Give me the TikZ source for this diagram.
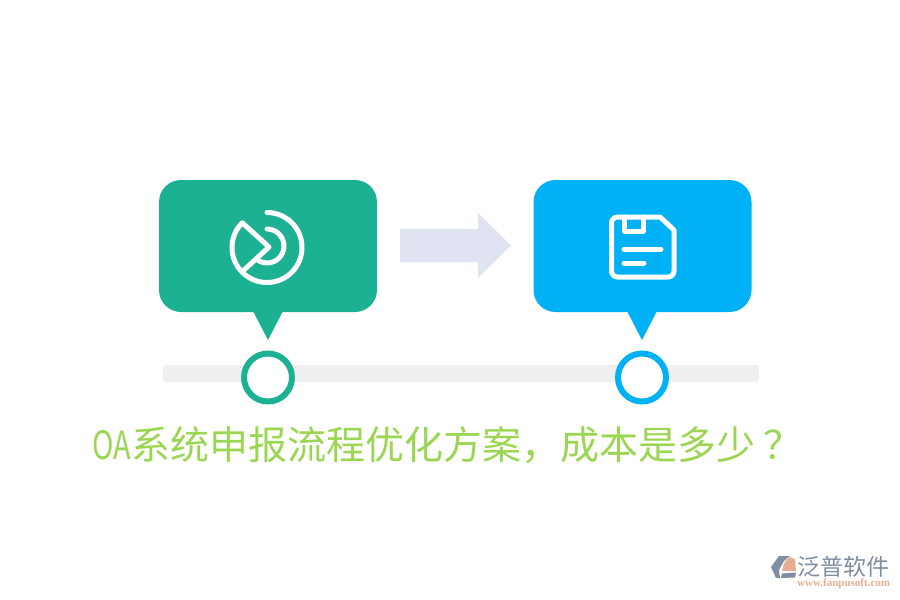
\documentclass[tikz,border=0pt]{standalone}
\usepackage{fontspec}
\newfontfamily\cjk{Noto Sans CJK SC}
\setmainfont{Liberation Serif}
\usetikzlibrary{positioning}
\definecolor{tealbox}{HTML}{1CB193}
\definecolor{bluebox}{HTML}{00B1F6}
\definecolor{trackgrey}{HTML}{EFEFEF}
\definecolor{arrowgrey}{HTML}{DFE3F2}
\definecolor{titlegreen}{HTML}{9BD653}
\definecolor{logoblue}{HTML}{7F8FA3}
\definecolor{logoorange}{HTML}{E6AE90}

\begin{document}
\begin{tikzpicture}[
  x=1pt,y=-1pt,
  callout/.style={rounded corners=22pt,minimum width=218pt,minimum height=132pt,inner sep=0pt},
  ring/.style={circle,draw,line width=6pt,fill=white,minimum size=48pt,inner sep=0pt},
  iconline/.style={draw=white,line width=5pt,line cap=round,line join=round}
  ]
  \useasboundingbox (0,0) rectangle (900,600);

  % track and the two markers
  \node[fill=trackgrey,rounded corners=3pt,minimum width=596pt,minimum height=17pt,inner sep=0pt] (track) at (461,373.5) {};
  \node[ring,draw=tealbox] (ringa) at (268,377.5) {};
  \node[ring,draw=bluebox] (ringb) at (642,377.5) {};

  % callouts
  \node[callout,fill=tealbox] (boxa) at (268,246) {};
  \node[callout,fill=bluebox] (boxb) at (642.5,246) {};
  \fill[tealbox] (253,311) -- (268,340) -- (283,311) -- cycle;
  \fill[bluebox] (627,311) -- (642,340) -- (657,311) -- cycle;

  % arrow
  \fill[arrowgrey] (400,229) -- (478,229) -- (478,213) -- (511,245.5) -- (478,278) -- (478,262) -- (400,262) -- cycle;

  % first icon
  \draw[iconline] (267,212.5) arc[start angle=-90,end angle=225,radius=35] -- (269,247) -- (244,270);
  \draw[iconline] (267,229) arc[start angle=-90,end angle=118,radius=17];

  % second icon
  \draw[iconline] (660,217) -- (674,230) -- (674,271) arc[start angle=0,end angle=90,radius=6] -- (617.5,277) arc[start angle=90,end angle=180,radius=6] -- (611.5,223) arc[start angle=180,end angle=270,radius=6] -- cycle;
  \draw[iconline] (624,217) -- (624,231) -- (643,231) -- (643,217);
  \draw[iconline] (624,249) -- (661,249);
  \draw[iconline] (624,263) -- (644,263);

  % title
  \node[text=titlegreen,font=\cjk\fontsize{39}{39}\selectfont,anchor=west,inner sep=0pt] (title) at (92.5,445) {\scalebox{0.74}[1]{OA}系统申报流程优化方案，成本是多少\kern8pt？};

  % logo
  \fill[logoblue] (771,567) -- (779,556) -- (790,556) -- (784,561) -- (779,570) -- (780,578) -- (776,578) -- cycle;
  \fill[logoblue] (782,573.5) -- (796,572.5) -- (795,577.5) -- (781,578) -- cycle;
  \fill[logoorange] (782,571) .. controls (783,564) and (786,559) .. (790,557) -- (795,559) -- (796,571) -- cycle;
  \node[text=logoblue,font=\cjk\fontsize{23}{23}\selectfont,anchor=west,inner sep=0pt] (logotext) at (797,567) {泛普软件};
  \node[text=logoorange,font=\bfseries\fontsize{11}{11}\selectfont,anchor=west,inner sep=0pt] (logourl) at (797,584) {www.fanpusoft.com};
\end{tikzpicture}
\end{document}
